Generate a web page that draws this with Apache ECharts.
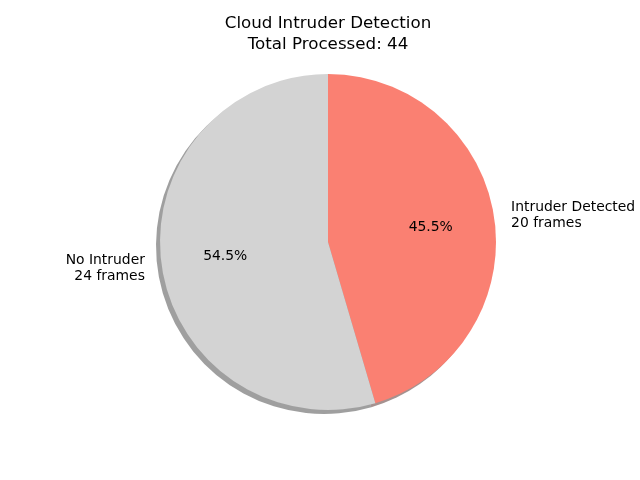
<!DOCTYPE html>
<html>
<head>
<meta charset="utf-8">
<script src="https://cdn.jsdelivr.net/npm/echarts@6/dist/echarts.min.js"></script>
<style>
  html, body { margin: 0; padding: 0; background: #fff; }
  #chart { width: 640px; height: 480px; }
</style>
</head>
<body>
<div id="chart"></div>
<script>
// data
const categories = ['Intruder Detected', 'No Intruder'];
const frames = [20, 24];
const colors = ['#fa8072', '#d3d3d3'];
const shadowColors = ['rgba(75,38,34,0.5)', 'rgba(63,63,63,0.5)'];

const total = frames.reduce((a, b) => a + b, 0);
const radius = 168;
const font = 'DejaVu Sans';

const chart = echarts.init(document.getElementById('chart'));

const pieData = categories.map((name, i) => ({
  name: name,
  value: frames[i],
  itemStyle: { color: colors[i] }
}));

chart.setOption({
  animation: false,
  title: {
    text: 'Cloud Intruder Detection\nTotal Processed: ' + total,
    left: 323,
    top: 8,
    textAlign: 'center',
    textStyle: {
      fontFamily: font,
      fontSize: 16.7,
      fontWeight: 'normal',
      color: '#000',
      lineHeight: 21
    }
  },
  series: [
    {
      // shadow, offset down-left like matplotlib's shadow=True
      type: 'pie',
      silent: true,
      center: [324, 246],
      radius: [0, radius],
      startAngle: 90,
      z: 1,
      label: { show: false },
      labelLine: { show: false },
      data: categories.map((name, i) => ({
        name: name,
        value: frames[i],
        itemStyle: { color: shadowColors[i] }
      }))
    },
    {
      // wedges + outer labels
      type: 'pie',
      center: [328, 242],
      radius: [0, radius],
      startAngle: 90,
      z: 2,
      avoidLabelOverlap: false,
      itemStyle: { borderWidth: 0 },
      label: {
        show: true,
        position: 'outside',
        fontFamily: font,
        fontSize: 13.9,
        color: '#000',
        lineHeight: 16,
        distanceToLabelLine: 0,
        formatter: p => p.name + '\n' + p.value + ' frames'
      },
      labelLine: { show: false, length: 17, length2: 0 },
      data: pieData
    },
    {
      // percent labels at 0.6 radius
      type: 'pie',
      silent: true,
      center: [328, 242],
      radius: [0, radius * 1.2],
      startAngle: 90,
      z: 3,
      itemStyle: { color: 'rgba(0,0,0,0)' },
      label: {
        show: true,
        position: 'inside',
        fontFamily: font,
        fontSize: 13.9,
        color: '#000',
        formatter: p => (p.value / total * 100).toFixed(1) + '%'
      },
      labelLine: { show: false },
      data: categories.map((name, i) => ({ name: name, value: frames[i] }))
    }
  ]
});
</script>
</body>
</html>
